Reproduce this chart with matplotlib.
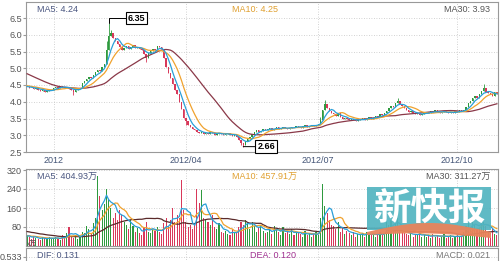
import matplotlib
matplotlib.use('Agg')
import matplotlib.pyplot as plt
import numpy as np
from matplotlib.patches import Rectangle, Polygon

plt.rcParams['font.family'] = ['Liberation Sans', 'Noto Sans CJK SC', 'DejaVu Sans']

# closes before the visible window (only used for the moving averages)
pre_closes = [5.35, 5.30, 5.32, 5.28, 5.25, 5.20, 5.22, 5.18, 5.15, 5.10,
              5.12, 5.05, 5.00, 4.95, 4.80, 4.70, 4.65, 4.60, 4.55, 4.55,
              4.50, 4.52, 4.50, 4.48, 4.50, 4.47, 4.45, 4.46, 4.44]
pre_vols = [80, 95, 70, 85, 90, 75, 60, 88, 72, 65, 70, 58, 66, 80, 55,
            62, 50, 48, 55, 60, 45, 52, 40, 48, 44, 38, 50, 42, 36]

closes = [
    4.45, 4.42, 4.40, 4.38, 4.41, 4.36, 4.33, 4.35, 4.30, 4.32, 4.34, 4.36,
    4.40, 4.45, 4.42, 4.46, 4.44, 4.40, 4.43, 4.38, 4.36, 4.30, 4.35, 4.40, 4.42,
    4.55, 4.62, 4.68, 4.75, 4.72, 4.80,
    4.88, 4.95, 4.92, 5.05, 5.12,
    5.55, 5.95, 6.05,
    5.90, 5.80, 5.72, 5.62, 5.55,
    5.60, 5.65, 5.58, 5.62, 5.68, 5.60, 5.62, 5.57, 5.55,
    5.42, 5.30, 5.45,
    5.52, 5.58, 5.55, 5.66, 5.62, 5.58,
    5.30, 5.05, 4.85, 4.70, 4.52, 4.35, 4.22,
    4.00, 3.78, 3.52, 3.42, 3.32, 3.25,
    3.20, 3.15, 3.10, 3.06, 3.10, 3.05,
    3.08, 3.04, 3.10, 3.06, 3.02, 3.05, 3.08, 3.04, 3.00, 3.03, 3.06, 3.02, 2.98, 3.00, 2.95,
    2.85, 2.76, 2.72, 2.82, 2.90,
    2.96, 3.05, 3.10, 3.16, 3.10, 3.14, 3.20, 3.15,
    3.18, 3.22, 3.17, 3.20, 3.24, 3.19, 3.22, 3.25, 3.21, 3.18, 3.22, 3.26,
    3.24, 3.28, 3.25, 3.22, 3.27, 3.30, 3.26, 3.29, 3.32, 3.28, 3.30, 3.34,
    3.45, 3.75, 3.92, 3.80, 3.72, 3.66,
    3.62, 3.58, 3.65, 3.55, 3.50, 3.52, 3.48, 3.45, 3.50, 3.46, 3.42, 3.45,
    3.48, 3.52, 3.46, 3.50, 3.55, 3.48, 3.52, 3.58, 3.55, 3.62, 3.60, 3.65,
    3.72, 3.80, 3.88, 3.85, 3.95, 4.02, 3.92, 3.86,
    3.80, 3.75, 3.70, 3.72, 3.66, 3.62, 3.65, 3.60, 3.64, 3.68,
    3.70, 3.66, 3.72, 3.68, 3.74, 3.70, 3.66, 3.70, 3.72, 3.68, 3.65, 3.70,
    3.67, 3.72, 3.70, 3.74, 3.72,
    3.74, 3.85, 3.95, 4.02, 4.10, 4.18, 4.12, 4.22,
    4.32, 4.42, 4.30, 4.26, 4.22, 4.18, 4.28, 4.24,
]

vols = [
    45, 38, 30, 42, 35, 28, 25, 40, 32, 30, 36, 28,
    35, 40, 30, 25, 45, 38, 55, 82, 40, 35, 48, 30, 42,
    60, 55, 85, 70, 50, 95,
    120, 295, 210, 150, 175,
    240, 200, 160, 120, 140,
    110, 150, 130, 100, 90, 70, 110, 85, 60, 75, 55, 45,
    80, 100, 60, 55, 70, 65, 80, 60, 50,
    95, 120, 85, 110, 160, 100, 130,
    120, 280, 150, 100, 80, 90,
    70, 95, 240, 180, 235, 120,
    110, 100, 90, 130, 80, 70, 95, 60, 55, 65, 50, 45, 70, 55, 60,
    80, 100, 90, 110, 95,
    70, 100, 85, 60, 75, 90, 65, 55,
    60, 75, 50, 85, 70, 60, 45, 80, 55, 65, 50, 70,
    45, 60, 55, 50, 40, 65, 45, 55, 40, 50, 60, 45,
    120, 260, 170, 140, 110, 90,
    85, 70, 100, 60, 75, 50, 65, 55, 45, 60, 40, 50,
    45, 55, 40, 60, 50, 45, 55, 40, 50, 60, 45, 55,
    100, 90, 110, 80, 95, 120, 70, 60,
    55, 50, 45, 60, 40, 50, 45, 55, 40, 45,
    40, 45, 35, 50, 40, 45, 35, 40, 50, 35, 40, 45,
    35, 40, 45, 38, 42,
    60, 85, 95, 80, 110, 90, 70, 75,
    120, 100, 85, 60, 55, 70, 50, 45,
]

# notable shadows
wick_high = {37: 6.35, 36: 5.80, 38: 6.15, 133: 3.55, 135: 4.05, 168: 4.10, 207: 4.52}
wick_low = {98: 2.66, 21: 4.20, 54: 5.20, 72: 3.30, 97: 2.70}

date_pos = [12, 72, 132, 195]
date_labels = ['2012', '2012/04', '2012/07', '2012/10']

N = len(closes)
c = np.array(closes)
o = np.array([pre_closes[-1]] + closes[:-1])
hi = np.maximum(o, c)
lo = np.minimum(o, c)
for k, v in wick_high.items():
    hi[k] = v
for k, v in wick_low.items():
    lo[k] = v
v = np.array(vols, dtype=float)
x = np.arange(N)

all_c = np.array(pre_closes + closes)
all_v = np.array(pre_vols + vols, dtype=float)


def ma(a, n):
    return np.convolve(a, np.ones(n) / n, mode='valid')[-N:]


UP = '#2e9a3e'
DN = '#d8385a'
cols = np.where(c >= o, UP, DN)
C5, C10, C30 = '#2a9fd8', '#f0a22e', '#8a3848'
GRID = dict(color='#c4c4c4', lw=0.6, linestyle=(0, (1, 2)))
TXT = '#555555'

fig = plt.figure(figsize=(5, 2.61), dpi=100)
W, H = 500, 261

# price panel
ax = fig.add_axes([26 / W, 1 - 152 / H, 472 / W, 150 / H])
ax.set_xlim(-0.5, N - 0.5)
ax.set_ylim(2.5, 2.5 + 150 / 33.5)
ax.vlines(x, lo, hi, colors=cols, lw=0.6, zorder=2)
ax.bar(x, np.maximum(np.abs(c - o), 0.015), bottom=np.minimum(o, c), width=0.65,
       color=cols, linewidth=0, zorder=2)
ax.plot(x, ma(all_c, 30), color=C30, lw=0.9, zorder=3)
ax.plot(x, ma(all_c, 10), color=C10, lw=0.9, zorder=3)
ax.plot(x, ma(all_c, 5), color=C5, lw=0.9, zorder=3)
ax.set_yticks(np.arange(2.5, 6.51, 0.5))
ax.set_yticklabels(['%.1f' % t for t in np.arange(2.5, 6.51, 0.5)])
ax.set_xticks(date_pos)
ax.set_xticklabels(date_labels)
ax.tick_params(axis='y', length=2, pad=1, labelsize=6.5, labelcolor=TXT, color='#999')
ax.tick_params(axis='x', length=0, pad=3, labelsize=6.5, labelcolor='#445577')
ax.grid(True, **GRID)
ax.set_axisbelow(True)
for s in ax.spines.values():
    s.set_color('#999999')
    s.set_linewidth(0.8)

ipk = int(np.argmax(hi))
itr = int(np.argmin(lo))
box = dict(boxstyle='square,pad=0.2', fc='white', ec='black', lw=0.8)
ax.annotate('%.2f' % hi[ipk], xy=(ipk, hi[ipk]), xytext=(19, 5), textcoords='offset pixels',
            fontsize=6.5, fontweight='bold', bbox=box, ha='left', va='center',
            arrowprops=dict(arrowstyle='-', lw=0.7, color='black', shrinkA=0, shrinkB=0,
                            connectionstyle='angle,angleA=0,angleB=90'), zorder=5)
ax.annotate('%.2f' % lo[itr], xy=(itr, lo[itr]), xytext=(14, 0), textcoords='offset pixels',
            fontsize=6.5, fontweight='bold', bbox=box, ha='left', va='center',
            arrowprops=dict(arrowstyle='-', lw=0.7, color='black', shrinkA=0, shrinkB=0), zorder=5)

# volume panel
vax = fig.add_axes([26 / W, 1 - 246 / H, 472 / W, 77 / H])
vax.set_xlim(-0.5, N - 0.5)
vax.set_ylim(0, 77 * 80 / 19)
vax.bar(x, v, width=0.5, color=cols, linewidth=0, zorder=2)
vax.plot(x, ma(all_v, 30), color='#5a2a2a', lw=0.9, zorder=3)
vax.plot(x, ma(all_v, 10), color=C10, lw=0.9, zorder=3)
vax.plot(x, ma(all_v, 5), color=C5, lw=0.9, zorder=3)
vax.set_yticks([80, 160, 240, 320])
vax.set_xticks(date_pos)
vax.set_xticklabels([])
vax.tick_params(axis='y', length=2, pad=1, labelsize=6.5, labelcolor=TXT, color='#999')
vax.tick_params(axis='x', length=0)
vax.grid(True, **GRID)
vax.set_axisbelow(True)
for s in vax.spines.values():
    s.set_color('#999999')
    s.set_linewidth(0.8)

# MACD panel (only its top edge is visible)
mac = fig.add_axes([26 / W, -30 / H, 472 / W, 43 / H])
mac.set_xlim(-0.5, N - 0.5)
mac.set_ylim(0, 1)
mac.set_yticks([34 / 43])
mac.set_yticklabels(['0.533'])
mac.set_xticks(date_pos)
mac.set_xticklabels([])
mac.tick_params(axis='y', length=2, pad=1, labelsize=6.5, labelcolor=TXT, color='#999')
mac.tick_params(axis='x', length=0)
mac.grid(True, **GRID)
for s in mac.spines.values():
    s.set_color('#999999')
    s.set_linewidth(0.8)

# overlay in pixel coordinates for the legends and the watermark
ov = fig.add_axes([0, 0, 1, 1], zorder=10)
ov.set_xlim(0, W)
ov.set_ylim(H, 0)
ov.axis('off')
ov.patch.set_alpha(0)

fs = 6.5
ov.text(37, 10, 'MA5: 4.24', color='#4a5680', fontsize=fs, va='center')
ov.text(232, 10, 'MA10: 4.25', color='#e0a030', fontsize=fs, va='center')
ov.text(490, 10, 'MA30: 3.93', color=TXT, fontsize=fs, va='center', ha='right')
ov.text(37, 177, 'MA5: 404.93万', color='#4a5680', fontsize=fs, va='center')
ov.text(232, 177, 'MA10: 457.91万', color='#e0a030', fontsize=fs, va='center')
ov.text(490, 177, 'MA30: 311.27万', color=TXT, fontsize=fs, va='center', ha='right')
ov.text(27, 244, 'x万', color=TXT, fontsize=5, va='center')
ov.text(37, 256, 'DIF: 0.131', color='#4a5680', fontsize=fs, va='center')
ov.text(250, 256, 'DEA: 0.120', color='#a03090', fontsize=fs, va='center')
ov.text(490, 256, 'MACD: 0.021', color='#777777', fontsize=fs, va='center', ha='right')

ov.add_patch(Rectangle((367, 187), 124, 43, fc='#52b4c0', ec='none', alpha=0.92))
t = np.linspace(0, 1, 40)
xs = 367 + 124 * t
top = 232 - 9 * np.sin(np.pi * t)
bot = 235 - 3 * np.sin(np.pi * t) + 3 * t
ov.add_patch(Polygon(np.column_stack([np.r_[xs, xs[::-1]], np.r_[top, bot[::-1]]]),
                     fc='#e8845c', ec='none', alpha=0.95))
ov.text(429, 208, '新快报', color='white', fontsize=27, fontweight='bold',
        ha='center', va='center', family=['Noto Sans CJK SC'])

fig.savefig('out.png', dpi=100)
